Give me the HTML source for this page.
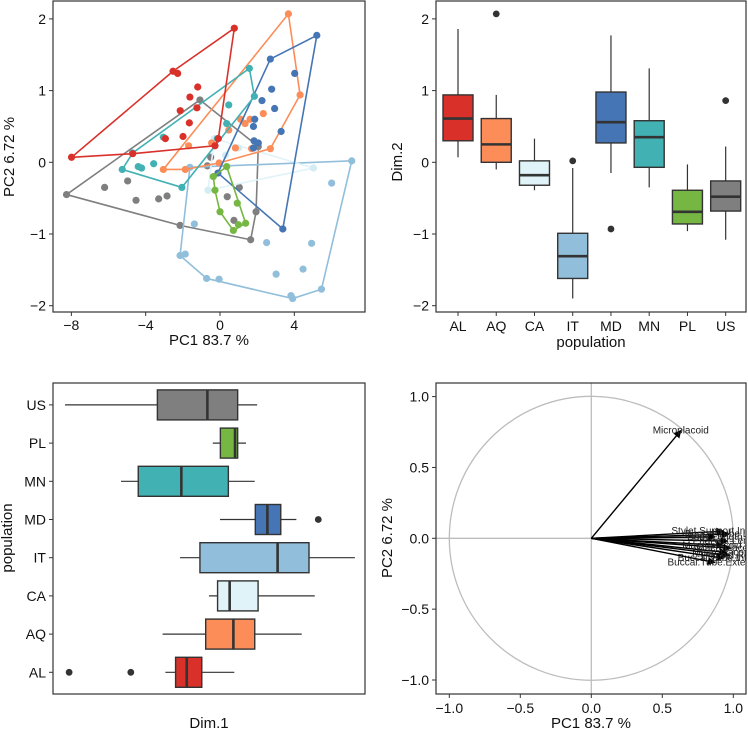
<!DOCTYPE html>
<html><head><meta charset="utf-8"><style>
body{margin:0;background:#fff;}
svg{display:block;font-family:"Liberation Sans",Arial,sans-serif;}
</style></head><body>
<svg id="fig" width="748" height="731" viewBox="0 0 748 731">
<defs>
<clipPath id="c1"><rect x="53" y="1" width="312" height="311"/></clipPath>
<clipPath id="c4"><rect x="436" y="383" width="310" height="311"/></clipPath>
<marker id="ah" markerWidth="8" markerHeight="8" refX="7" refY="4" orient="auto" markerUnits="userSpaceOnUse"><path d="M0,0 L8,4 L0,8 z" fill="#000"/></marker>
</defs>
</svg>
<script>
const groups=["AL","AQ","CA","IT","MD","MN","PL","US"];
const colors={AL:"#d9312a",AQ:"#fc8d59",CA:"#e0f3f8",IT:"#91bfdb",MD:"#4575b4",MN:"#41b1b3",PL:"#76b743",US:"#7f7f7f"};
// scatter points (PC1, PC2)
const ptsAL=[[-7.99,0.07],[0.77,1.87],[-2.53,1.27],[-2.28,1.24],[-1.2,1.05],[-1.62,0.91],[-1.24,0.76],[-2.14,0.72],[-1.65,0.55],[-1.99,0.36],[-2.94,0.33],[-0.09,0.33],[-0.27,0.23],[-4.7,0.12]];
const ptsAQ=[[3.68,2.07],[4.31,0.94],[2.71,0.19],[-3.05,-0.1],[-1.87,-0.1],[-1.69,0.23],[-0.45,0.27],[-0.05,-0.01],[0.47,0.45],[0.83,0.2],[1.11,0.6],[1.35,0.54],[1.62,0.6],[2.33,0.68],[1.7,0.19]];
const ptsCA=[[-0.3,0.33],[5.03,-0.08],[-0.65,-0.39],[0.3,0.1],[1.0,0.2]];
const ptsIT=[[-1.62,-0.07],[7.09,0.02],[5.46,-1.77],[3.91,-1.9],[3.82,-1.86],[-0.72,-1.62],[-0.05,-1.63],[-2.15,-1.3],[-1.87,-1.28],[6.01,-0.29],[4.93,-1.13],[4.47,-1.49],[3.02,-1.56],[2.51,-1.12],[-1.38,-0.86]];
const ptsMD=[[5.21,1.77],[2.71,1.44],[4.02,1.24],[2.78,1.02],[2.26,0.86],[2.94,0.75],[1.87,0.6],[1.8,0.5],[1.83,0.3],[2.06,0.27],[3.29,0.43],[3.38,-0.93],[-0.11,-0.15],[1.8,0.2]];
const ptsMN=[[1.58,1.31],[1.85,0.92],[0.47,0.8],[-2.05,-0.35],[-5.26,-0.1],[-4.7,0.13],[-3.05,0.35],[-3.57,-0.02],[-4.4,-0.06],[-4.22,-0.08],[0.36,0.54],[-0.14,0.33]];
const ptsPL=[[-0.36,-0.2],[0.36,-0.06],[0.93,-0.57],[1.38,-0.85],[0.72,-0.95],[0,-0.69],[-0.27,-0.39],[0.99,-0.87]];
const ptsUS=[[-1.08,0.87],[2.06,0.22],[1.94,-0.69],[1.65,-1.08],[-2.15,-0.88],[-8.26,-0.45],[-6.21,-0.35],[-4.97,-0.26],[-4.52,-0.53],[-3.3,-0.51],[-2.85,-0.47],[-0.5,0.07],[-0.68,-0.05],[0.39,-0.48],[0.75,-0.81],[1.04,-0.35]];
const ptsByGroup={AL:ptsAL,AQ:ptsAQ,CA:ptsCA,IT:ptsIT,MD:ptsMD,MN:ptsMN,PL:ptsPL,US:ptsUS};
const xTicks1=[-8,-4,0,4];
const yTicks1=[-2,-1,0,1,2];
// box stats [min, q1, med, q3, max]
const dim2Stats=[[0.07,0.30,0.61,0.94,1.86],[-0.1,0,0.25,0.61,0.94],[-0.39,-0.32,-0.18,0.02,0.33],[-1.9,-1.62,-1.31,-0.99,-0.08],[-0.15,0.27,0.56,0.98,1.77],[-0.35,-0.07,0.35,0.58,1.31],[-0.96,-0.86,-0.69,-0.39,-0.03],[-1.08,-0.68,-0.48,-0.26,0.22]];
const dim2Out=[[],[2.07],[],[0.02],[-0.93],[],[],[0.86]];
const dim1Stats=[[-2.94,-2.39,-1.79,-0.98,0.77],[-3.09,-0.77,0.72,1.87,4.4],[-0.59,-0.13,0.52,2.05,5.1],[-2.15,-1.08,3.1,4.79,7.26],[0,1.9,2.55,3.27,4.11],[-5.33,-4.4,-2.08,0.45,1.87],[-0.39,0.02,0.81,0.95,1.4],[-8.34,-3.37,-0.68,0.95,2.0]];
const dim1Out=[[-8.12,-4.8],[],[],[],[5.29],[],[],[]];
// correlation circle loadings
const varNames=["Microplacoid","Stylet.Support.Insertion","Buccal.Tube.Length","Body.Length","Pharynx.Length","Macroplacoid.Row","Macroplacoid.1","Macroplacoid.2","Placoid.Row","Buccal.Tube.Internal","Buccal.Tube.External"];
const varPC1=[0.63,0.93,0.97,0.87,0.96,0.93,0.98,0.95,0.97,0.93,0.87];
const varPC2=[0.76,0.05,0.03,0.01,-0.02,-0.05,-0.07,-0.1,-0.12,-0.14,-0.17];
const tick4=[-1,-0.5,0,0.5,1];
const tick4Lab=["−1.0","−0.5","0.0","0.5","1.0"];

const svg=document.getElementById('fig');
const NS="http://www.w3.org/2000/svg";
function el(tag,attrs,parent){const e=document.createElementNS(NS,tag);for(const k in attrs)e.setAttribute(k,attrs[k]);(parent||svg).appendChild(e);return e;}
function txt(s,x,y,anchor,size,parent,rot){const t=el('text',{x:x,y:y,'text-anchor':anchor,'font-size':size,fill:'#111'},parent);if(rot)t.setAttribute('transform',`rotate(-90 ${x} ${y})`);t.textContent=s;return t;}
function minus(v){return String(v).replace('-','−');}
function hull(p){const s=p.slice().sort((a,b)=>a[0]-b[0]||a[1]-b[1]);const cr=(o,a,b)=>(a[0]-o[0])*(b[1]-o[1])-(a[1]-o[1])*(b[0]-o[0]);const lo=[],up=[];for(const q of s){while(lo.length>=2&&cr(lo[lo.length-2],lo[lo.length-1],q)<=0)lo.pop();lo.push(q);}for(const q of s.slice().reverse()){while(up.length>=2&&cr(up[up.length-2],up[up.length-1],q)<=0)up.pop();up.push(q);}return lo.slice(0,-1).concat(up.slice(0,-1));}

const TK=14, TT=15;
// ---- Panel 1: scatter ----
const sx1=v=>220+18.58*v, sy1=v=>162.3-71.7*v;
const p1=el('g',{});


const pg=el('g',{'clip-path':'url(#c1)'},p1);
for(const g of ["US","IT","CA","AQ","MD","MN","AL","PL"]){
  const pts=ptsByGroup[g];const h=hull(pts);
  const poly=el('polygon',{points:h.map(q=>sx1(q[0])+','+sy1(q[1])).join(' '),fill:'none',stroke:colors[g],'stroke-width':1.6},pg);
  
  
  for(const q of pts){const c=el('circle',{cx:sx1(q[0]),cy:sy1(q[1]),r:3.6,fill:g==="CA"?"#d4ecf4":colors[g]},pg);
    
    }
}
el('rect',{x:53,y:1,width:312,height:311,fill:'none',stroke:'#333','stroke-width':1.2},p1);
for(const t of xTicks1){el('line',{x1:sx1(t),x2:sx1(t),y1:312,y2:316,stroke:'#333'},p1);txt(minus(t),sx1(t),330,'middle',TK,p1);}
for(const t of yTicks1){el('line',{x1:49,x2:53,y1:sy1(t),y2:sy1(t),stroke:'#333'},p1);txt(minus(t),46,sy1(t)+5,'end',TK,p1);}
const xt1=txt('PC1 83.7 %',209,345,'middle',TT,p1);
const yt1=txt('PC2 6.72 %',14,157,'middle',TT,p1,true);

// ---- Panel 2: Dim.2 boxplot ----
const bx2=i=>458+38.24*i, by2=sy1;
const p2=el('g',{});


dim2Stats.forEach((s,i)=>{const g=groups[i],x=bx2(i);
  el('line',{x1:x,x2:x,y1:by2(s[0]),y2:by2(s[4]),stroke:'#333','stroke-width':1.2},p2);
  const b=el('rect',{x:x-15,y:by2(s[3]),width:30,height:by2(s[1])-by2(s[3]),fill:colors[g],stroke:'#333','stroke-width':1.4},p2);
  
  
  el('line',{x1:x-15,x2:x+15,y1:by2(s[2]),y2:by2(s[2]),stroke:'#333','stroke-width':2.6},p2);
  dim2Out[i].forEach(o=>el('circle',{cx:x,cy:by2(o),r:3.4,fill:'#333'},p2));
  el('line',{x1:x,x2:x,y1:312,y2:316,stroke:'#333'},p2);txt(g,x,331,'middle',TK,p2);
});
el('rect',{x:436,y:1,width:310,height:311,fill:'none',stroke:'#333','stroke-width':1.2},p2);
for(const t of yTicks1){el('line',{x1:432,x2:436,y1:by2(t),y2:by2(t),stroke:'#333'},p2);txt(minus(t),429,by2(t)+5,'end',TK,p2);}
txt('population',591,347,'middle',TT,p2);
txt('Dim.2',402,162,'middle',TT,p2,true);

// ---- Panel 3: Dim.1 horizontal boxplot ----
const bx3=sx1, by3=i=>672.3-38.2*i;
const p3=el('g',{});


dim1Stats.forEach((s,i)=>{const g=groups[i],y=by3(i);
  el('line',{x1:bx3(s[0]),x2:bx3(s[4]),y1:y,y2:y,stroke:'#333','stroke-width':1.2},p3);
  const b=el('rect',{x:bx3(s[1]),y:y-15,width:bx3(s[3])-bx3(s[1]),height:30,fill:colors[g],stroke:'#333','stroke-width':1.4},p3);
  
  
  el('line',{x1:bx3(s[2]),x2:bx3(s[2]),y1:y-15,y2:y+15,stroke:'#333','stroke-width':2.6},p3);
  dim1Out[i].forEach(o=>el('circle',{cx:bx3(o),cy:y,r:3.4,fill:'#333'},p3));
  el('line',{x1:49,x2:53,y1:y,y2:y,stroke:'#333'},p3);txt(g,46,y+5,'end',TK,p3);
});
el('rect',{x:53,y:383,width:312,height:311,fill:'none',stroke:'#333','stroke-width':1.2},p3);
txt('Dim.1',209,728,'middle',TT,p3);
txt('population',12,538,'middle',TT,p3,true);

// ---- Panel 4: correlation circle ----
const sx4=v=>591.3+142*v, sy4=v=>538.3-141.7*v;
const p4=el('g',{});


const g4=el('g',{'clip-path':'url(#c4)'},p4);
el('circle',{cx:sx4(0),cy:sy4(0),r:142,fill:'none',stroke:'#bdbdbd','stroke-width':1.3},g4);
el('line',{x1:436,x2:746,y1:sy4(0),y2:sy4(0),stroke:'#bdbdbd','stroke-width':1.3},g4);
el('line',{x1:sx4(0),x2:sx4(0),y1:383,y2:694,stroke:'#bdbdbd','stroke-width':1.3},g4);
varNames.forEach((n,i)=>{
  const a=el('line',{x1:sx4(0),y1:sy4(0),x2:sx4(varPC1[i]),y2:sy4(varPC2[i]),stroke:'#000','stroke-width':1.4,'marker-end':'url(#ah)'},g4);
  
  
  const t=el('text',{x:sx4(varPC1[i]),y:sy4(varPC2[i])+3,'text-anchor':'middle','font-size':10,fill:'#222'},g4);t.textContent=n;
});
el('rect',{x:436,y:383,width:310,height:311,fill:'none',stroke:'#333','stroke-width':1.2},p4);
tick4.forEach((t,i)=>{el('line',{x1:sx4(t),x2:sx4(t),y1:694,y2:698,stroke:'#333'},p4);txt(tick4Lab[i],sx4(t),713,'middle',TK,p4);
  el('line',{x1:432,x2:436,y1:sy4(t),y2:sy4(t),stroke:'#333'},p4);txt(tick4Lab[i],429,sy4(t)+5,'end',TK,p4);});
txt('PC1 83.7 %',591,728,'middle',TT,p4);
txt('PC2 6.72 %',392,538,'middle',TT,p4,true);
</script>
</body></html>
